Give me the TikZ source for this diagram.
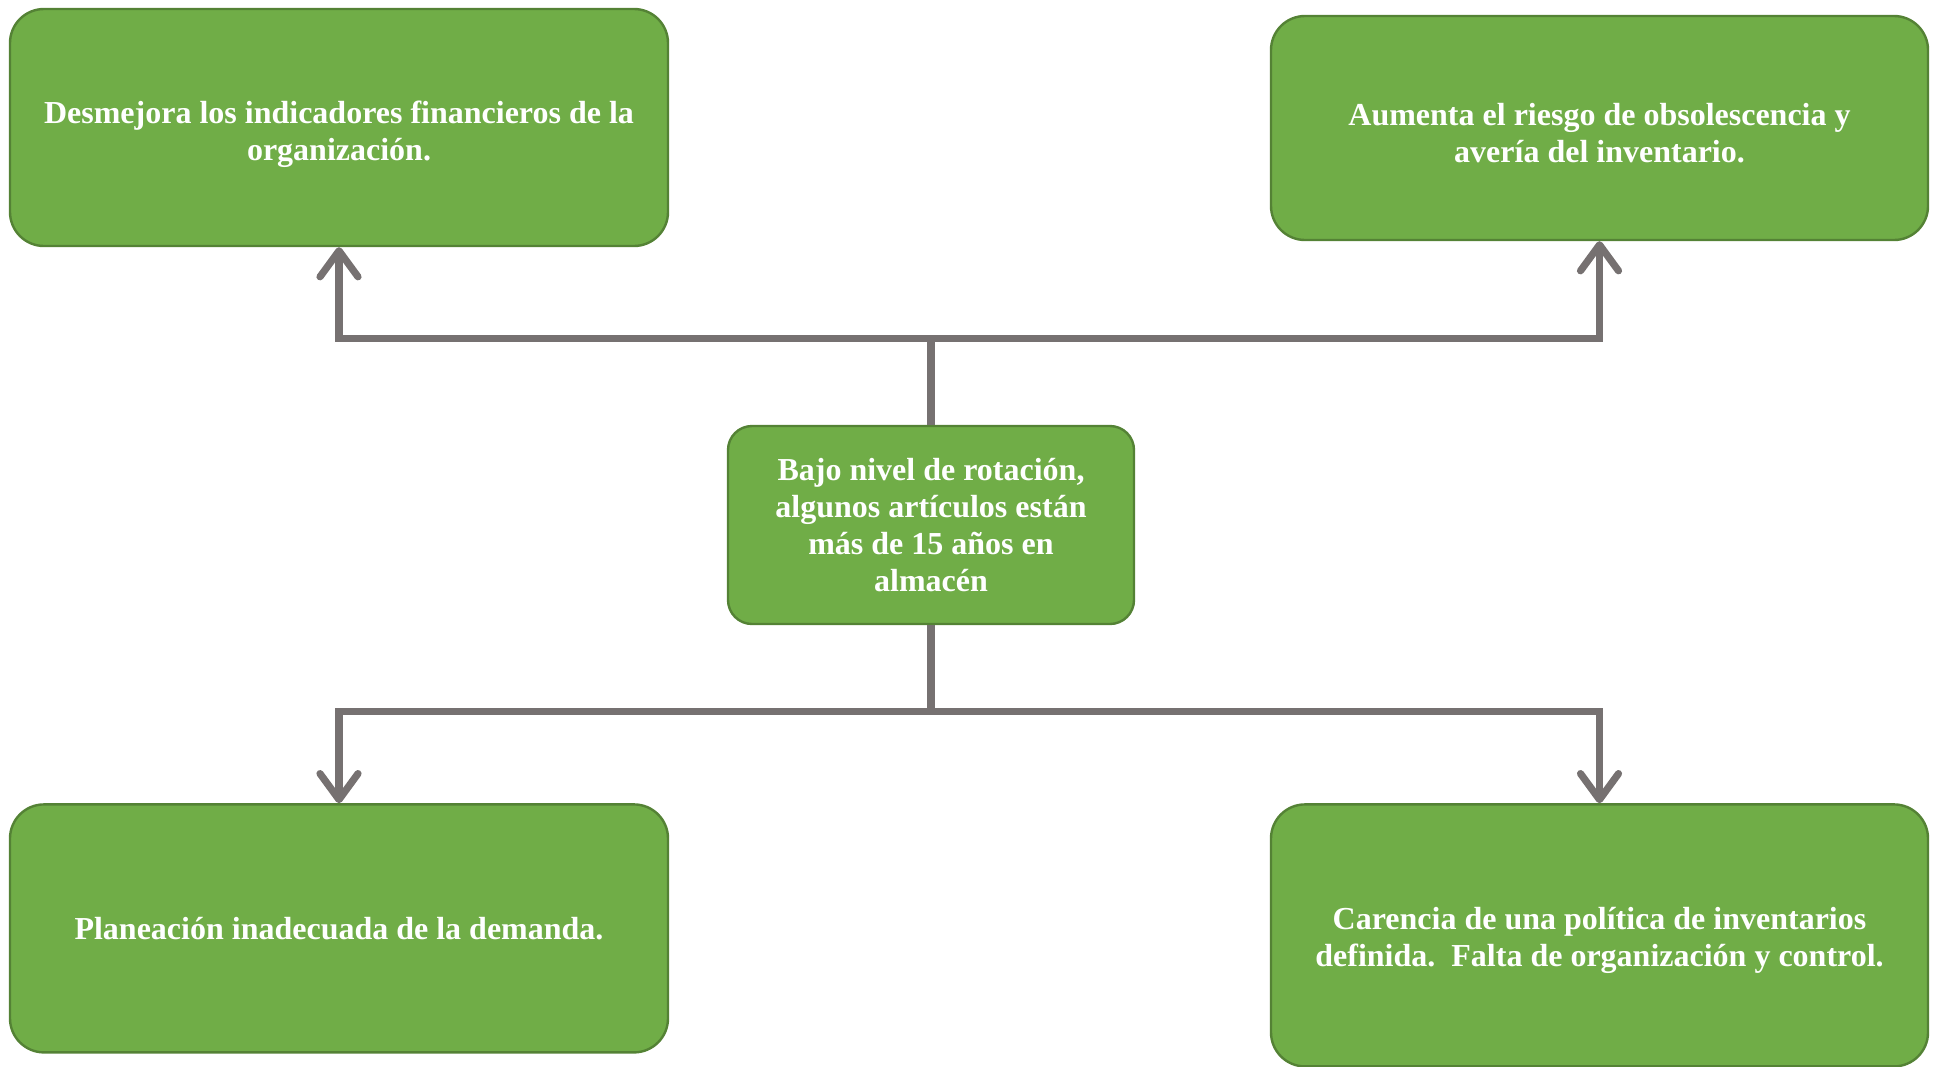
\documentclass[tikz,border=0pt]{standalone}
\usepackage{fontspec}
\setmainfont{Liberation Serif}
\usetikzlibrary{positioning,arrows.meta}

\definecolor{boxgreen}{HTML}{70AD47}
\definecolor{boxedge}{HTML}{548235}
\definecolor{linkgray}{HTML}{767171}

\begin{document}
\begin{tikzpicture}[
x=0.5pt, y=-0.5pt,
problem/.style = {draw=boxedge, line width=1.2pt, fill=boxgreen, rounded corners=17pt,
  text=white, align=center, font=\bfseries\fontsize{16}{18.5}\selectfont},
link/.style = {draw=linkgray, line width=3.6pt,
  -{Straight Barb[length=13pt, width=19pt, round]}} ]
\useasboundingbox (0,0) rectangle (1937,1066);

\node[problem, minimum width=203pt, minimum height=99pt, rounded corners=12pt] (0) at (931,525)
  {Bajo nivel de rotación,\\ algunos artículos están\\ más de 15 años en\\ almacén};

\node[problem, minimum width=329pt, minimum height=118.5pt] (1) [above left=88.8pt and 28.8pt of 0.north west, anchor=south east]
  {\rule{0pt}{18.5pt}Desmejora los indicadores financieros de la\\ organización.};
\node[problem, minimum width=328.5pt, minimum height=112pt] (2) [above right=91.8pt and 67.3pt of 0.north east, anchor=south west]
  {\rule{0pt}{16.5pt}Aumenta el riesgo de obsolescencia y\\ avería del inventario.};

\node[problem, minimum width=329pt, minimum height=124pt] (3) [below left=89pt and 28.8pt of 0.south west, anchor=north east]
  {Planeación inadecuada de la demanda.};
\node[problem, minimum width=328.5pt, minimum height=131pt] (4) [below right=89pt and 67.3pt of 0.south east, anchor=north west]
  {\rule{0pt}{16pt}Carencia de una política de inventarios\\ definida.\ \ Falta de organización y control.};

\draw[link] (0.north) -- ++(0,-86) -| (1.south);
\draw[link] (0.north) -- ++(0,-86) -| (2.south);
\draw[link] (0.south) -- ++(0,86) -| (3.north);
\draw[link] (0.south) -- ++(0,86) -| (4.north);

\end{tikzpicture}
\end{document}
